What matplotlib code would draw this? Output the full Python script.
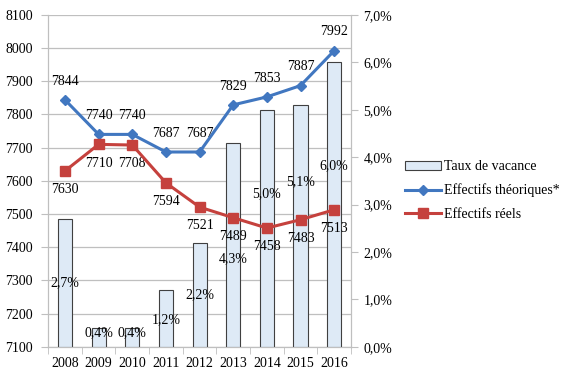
import matplotlib.pyplot as plt
import matplotlib.ticker as mticker
import numpy as np

years = ["2008", "2009", "2010", "2011", "2012", "2013", "2014", "2015", "2016"]
taux_vacance = [2.7, 0.4, 0.4, 1.2, 2.2, 4.3, 5.0, 5.1, 6.0]
effectifs_theoriques = [7844, 7740, 7740, 7687, 7687, 7829, 7853, 7887, 7992]
effectifs_reels = [7630, 7710, 7708, 7594, 7521, 7489, 7458, 7483, 7513]
# where Excel put the percentage labels (in % units of the right axis)
pct_label_y = [1.35, 0.30, 0.30, 0.58, 1.09, 1.85, 3.22, 3.48, 3.82]

plt.rcParams["font.family"] = ["Liberation Serif", "DejaVu Serif"]
FS = 10
BLUE = "#4177C0"
RED = "#C5413D"
GRID = "#BFBFBF"

fig = plt.figure(figsize=(5.67, 3.82), dpi=100)
ax = fig.add_axes([0.085, 0.092, 0.534, 0.869])
ax2 = ax.twinx()

x = np.arange(len(years))

# --------------------------------------------------
# BARS (right axis)
# --------------------------------------------------
ax2.bar(x, taux_vacance, width=0.42, color="#DEEAF6", edgecolor="#404040",
        linewidth=0.8, zorder=2, label="Taux de vacance")
ax2.set_ylim(0, 7)
ax2.yaxis.set_major_locator(mticker.MultipleLocator(1))
ax2.yaxis.set_major_formatter(
    mticker.FuncFormatter(lambda v, p: f"{v:.1f}%".replace(".", ",")))
for xi, v, ly in zip(x, taux_vacance, pct_label_y):
    ax2.text(xi, ly, f"{v:.1f}%".replace(".", ","), ha="center", va="center",
             fontsize=FS, zorder=5)

# --------------------------------------------------
# LINES (left axis) drawn on top of the bars
# --------------------------------------------------
ax3 = ax.twinx()
ax3.set_ylim(7100, 8100)
ax3.axis("off")
ax.set_ylim(7100, 8100)
ax3.plot(x, effectifs_theoriques, color=BLUE, lw=2.2, marker="D", ms=5.5,
         label="Effectifs théoriques*", zorder=4)
ax3.plot(x, effectifs_reels, color=RED, lw=2.2, marker="s", ms=7,
         label="Effectifs réels", zorder=4)
for xi, v in zip(x, effectifs_theoriques):
    ax3.annotate(str(v), (xi, v), xytext=(0, 13.5), textcoords="offset points",
                 ha="center", va="center", fontsize=FS)
for xi, v in zip(x, effectifs_reels):
    ax3.annotate(str(v), (xi, v), xytext=(0, -13.5), textcoords="offset points",
                 ha="center", va="center", fontsize=FS)

# --------------------------------------------------
# AXES STYLE
# --------------------------------------------------
ax.set_xlim(-0.5, len(years) - 0.5)
ax.yaxis.set_major_locator(mticker.MultipleLocator(100))
ax.grid(axis="y", color=GRID, lw=0.9, zorder=0)
ax.set_axisbelow(True)
ax.set_xticks(x)
ax.set_xticklabels(years)
ax.set_xticks(np.arange(-0.5, len(years)), minor=True)
ax.tick_params(axis="x", which="major", length=0, labelsize=FS, pad=7)
ax.tick_params(axis="x", which="minor", length=5, color=GRID)
ax.tick_params(axis="y", length=5, color=GRID, labelsize=FS, pad=6)
ax2.tick_params(axis="y", length=5, color=GRID, labelsize=FS, pad=4)
for a in (ax, ax2, ax3):
    a.spines["top"].set_visible(False)
for a in (ax, ax2):
    for s in ("left", "right", "bottom"):
        a.spines[s].set_color(GRID)
ax.patch.set_visible(False)
ax.set_zorder(0)
ax2.set_zorder(1)
ax3.set_zorder(2)

# --------------------------------------------------
# LEGEND
# --------------------------------------------------
h2, l2 = ax2.get_legend_handles_labels()
h3, l3 = ax3.get_legend_handles_labels()
fig.legend(h2 + h3, l2 + l3, loc="upper left", bbox_to_anchor=(0.705, 0.595),
           frameon=False, fontsize=FS, handlelength=2.6, handletextpad=0.2,
           labelspacing=0.75, borderaxespad=0)

fig.savefig("out.png", dpi=100)
